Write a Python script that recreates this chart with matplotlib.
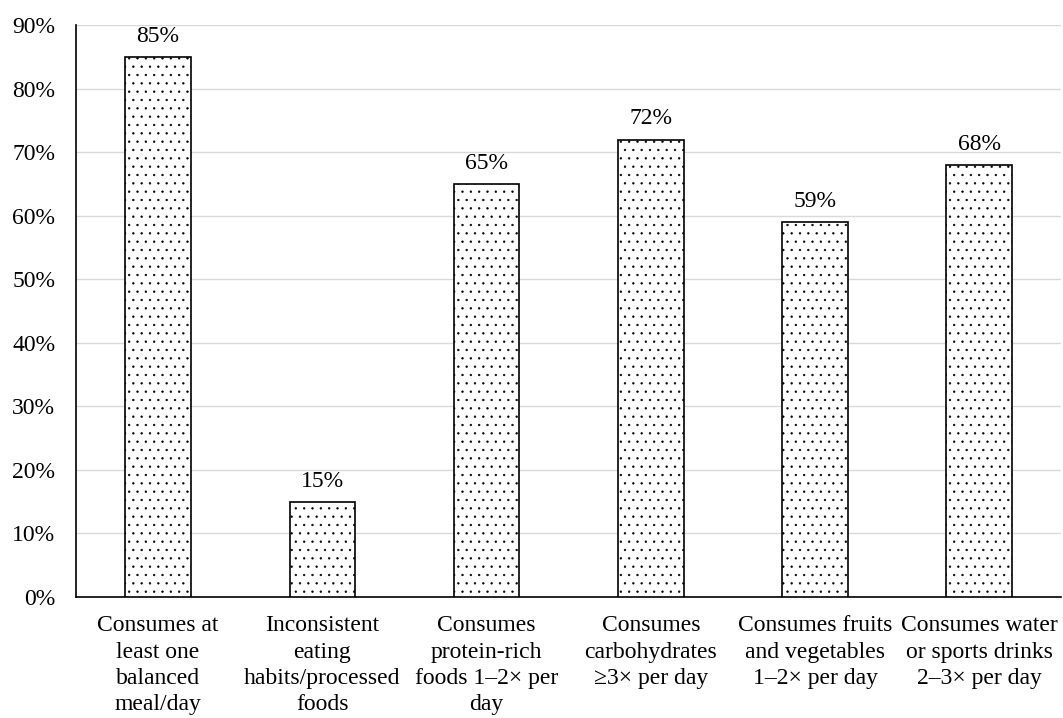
import matplotlib
matplotlib.use("Agg")
import matplotlib.pyplot as plt

# Category labels (wrapped as in the reference)
categories = [
    "Consumes at\nleast one\nbalanced\nmeal/day",
    "Inconsistent\neating\nhabits/processed\nfoods",
    "Consumes\nprotein-rich\nfoods 1\u20132\u00d7 per\nday",
    "Consumes\ncarbohydrates\n\u22653\u00d7 per day",
    "Consumes fruits\nand vegetables\n1\u20132\u00d7 per day",
    "Consumes water\nor sports drinks\n2\u20133\u00d7 per day",
]
values = [85, 15, 65, 72, 59, 68]
y_ticks = [0, 10, 20, 30, 40, 50, 60, 70, 80, 90]

plt.rcParams['font.family'] = ['Liberation Serif', 'DejaVu Serif']
plt.rcParams['hatch.linewidth'] = 0.45

fig = plt.figure(figsize=(10.63, 7.18), dpi=100)
ax = fig.add_axes([0.0715, 0.1685, 0.927, 0.7965])

x = list(range(len(values)))
bars = ax.bar(x, values, width=0.4, color="white", edgecolor="black",
              linewidth=1.2, hatch="..", zorder=3)

# value labels on top of the bars
for xi, v in zip(x, values):
    ax.text(xi, v + 1.6, f"{v}%", ha="center", va="bottom", fontsize=17)

ax.set_xlim(-0.5, len(values) - 0.5)
ax.set_ylim(0, 90)
ax.set_yticks(y_ticks)
ax.set_yticklabels([f"{t}%" for t in y_ticks], fontsize=17)
ax.set_xticks(x)
ax.set_xticklabels(categories, fontsize=17, linespacing=1.34)
ax.tick_params(axis="y", length=0, pad=15)
ax.tick_params(axis="x", length=0, pad=13)

ax.grid(axis="y", color="#d9d9d9", linewidth=1.0, zorder=0)
ax.spines["top"].set_visible(False)
ax.spines["right"].set_visible(False)
ax.spines["left"].set_color("black")
ax.spines["bottom"].set_color("black")
ax.spines["left"].set_linewidth(1.2)
ax.spines["bottom"].set_linewidth(1.2)

fig.savefig("out.png", dpi=100)
